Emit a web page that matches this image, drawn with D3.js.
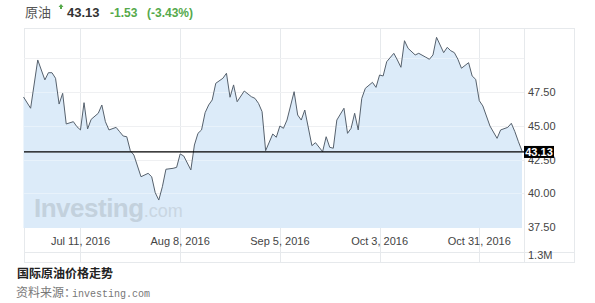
<!DOCTYPE html>
<html><head><meta charset="utf-8">
<script src="https://cdn.jsdelivr.net/npm/d3@7"></script>
<style>body{margin:0;background:#fff;}svg{display:block;}</style>
</head><body>
<svg id="c" width="595" height="303"></svg>
<script>
const dates = ["2016-06-25","2016-06-27","2016-06-29","2016-07-01","2016-07-02","2016-07-03","2016-07-04","2016-07-05","2016-07-06","2016-07-07",
"2016-07-09","2016-07-10","2016-07-11","2016-07-12","2016-07-13","2016-07-14","2016-07-16","2016-07-17","2016-07-18","2016-07-19",
"2016-07-21","2016-07-22","2016-07-23","2016-07-24","2016-07-25","2016-07-26","2016-07-28","2016-07-30","2016-07-31","2016-08-01",
"2016-08-02","2016-08-03","2016-08-04","2016-08-06","2016-08-07","2016-08-08","2016-08-09","2016-08-11","2016-08-12","2016-08-13",
"2016-08-14","2016-08-15","2016-08-16","2016-08-17","2016-08-18","2016-08-20","2016-08-21","2016-08-22","2016-08-23","2016-08-24",
"2016-08-26","2016-08-28","2016-08-29","2016-08-30","2016-08-31","2016-09-01","2016-09-03","2016-09-04","2016-09-05","2016-09-06",
"2016-09-07","2016-09-09","2016-09-10","2016-09-11","2016-09-12","2016-09-14","2016-09-15","2016-09-17","2016-09-18","2016-09-19",
"2016-09-20","2016-09-21","2016-09-23","2016-09-24","2016-09-25","2016-09-26","2016-09-27","2016-09-28","2016-09-29","2016-10-01",
"2016-10-02","2016-10-03","2016-10-04","2016-10-05","2016-10-07","2016-10-08","2016-10-09","2016-10-10","2016-10-11","2016-10-13",
"2016-10-14","2016-10-16","2016-10-17","2016-10-18","2016-10-19","2016-10-21","2016-10-22","2016-10-23","2016-10-24","2016-10-25",
"2016-10-26","2016-10-28","2016-10-29","2016-10-30","2016-10-31","2016-11-01","2016-11-03","2016-11-05","2016-11-06","2016-11-08",
"2016-11-09","2016-11-10","2016-11-11","2016-11-12"];
const prices = [47.11,46.28,49.84,48.37,48.90,48.90,48.49,46.59,47.38,45.12,
45.29,44.92,44.68,46.69,44.75,45.46,45.91,46.52,45.29,44.68,
44.87,44.55,44.23,44.18,43.15,42.83,41.23,41.48,41.23,40.05,
39.51,40.49,41.78,41.85,41.92,42.91,42.76,41.73,43.57,44.43,
44.68,45.95,46.52,46.89,48.12,48.49,48.86,47.09,48.00,46.76,
47.55,47.13,47.01,46.64,46.03,43.15,44.38,44.14,44.97,44.80,
45.41,47.50,45.78,45.41,46.15,43.52,43.74,43.08,44.18,43.40,
43.33,45.41,46.28,44.43,44.80,45.91,44.68,47.01,47.75,48.19,
47.82,48.73,48.66,49.71,50.33,49.84,49.30,51.26,50.70,50.21,
50.33,50.04,49.89,50.21,51.51,50.38,50.77,50.52,50.38,49.89,
49.23,49.64,48.66,48.41,46.84,46.45,44.97,44.06,44.68,44.87,
45.17,44.55,43.81,43.13];
const yTicks = [50, 47.5, 45, 42.5, 40, 37.5];
const yTickLabels = ["", "47.50", "45.00", "42.50", "40.00", "37.50"];
const xTickDates = ["2016-07-11","2016-08-08","2016-09-05","2016-10-03","2016-10-31"];
const xTickLabels = ["Jul 11, 2016","Aug 8, 2016","Sep 5, 2016","Oct 3, 2016","Oct 31, 2016"];
const lastPrice = 43.13;
const volumeLabel = "1.3M";
const header = {name:"原油", price:"43.13", change:"-1.53", pct:"(-3.43%)"};
const title = "国际原油价格走势";
const sourceLabel = "资料来源：";
const sourceText = "investing.com";

const parse = d3.timeParse("%Y-%m-%d");
const data = dates.map((d,i)=>({date:parse(d), v:prices[i]}));

const svg = d3.select("#c");
const L = 24, R = 524, T = 28, B = 228, BOX_R = 574, BOX_B = 262, SEP = 252;
const x = d3.scaleTime().domain([data[0].date, data[data.length-1].date]).range([23.5, 522]);
const y = d3.scaleLinear().domain([37.5, 50]).range([227.3, 57.8]);
const sans = "'Liberation Sans', Arial, sans-serif";
const grid = "#e6e9ec";

// frame
svg.append("rect").attr("x",L+0.5).attr("y",T+0.5).attr("width",BOX_R-L).attr("height",BOX_B-T)
  .attr("fill","none").attr("stroke",grid);
svg.append("line").attr("x1",R+0.5).attr("x2",R+0.5).attr("y1",T).attr("y2",BOX_B).attr("stroke",grid);
svg.append("line").attr("x1",L).attr("x2",BOX_R).attr("y1",SEP+0.5).attr("y2",SEP+0.5).attr("stroke",grid);

// horizontal grid
svg.append("g").selectAll("line").data(yTicks.slice(0,5)).join("line")
  .attr("x1",L).attr("x2",R).attr("y1",d=>Math.round(y(d))+0.5).attr("y2",d=>Math.round(y(d))+0.5)
  .attr("stroke",grid);
// vertical grid
svg.append("g").selectAll("line").data(xTickDates).join("line")
  .attr("x1",d=>Math.round(x(parse(d)))+0.5).attr("x2",d=>Math.round(x(parse(d)))+0.5)
  .attr("y1",T).attr("y2",BOX_B).attr("stroke",grid);

// area
const area = d3.area().x(d=>x(d.date)).y0(B).y1(d=>y(d.v));
svg.append("path").datum(data).attr("d",area).attr("fill","#dcebf9");

// watermark
const wm = svg.append("text").attr("x",34).attr("y",217).attr("font-family",sans);
wm.append("tspan").text("Investing").attr("font-size",26).attr("font-weight","bold").attr("fill","#c3d1dd").attr("letter-spacing",-0.5);
wm.append("tspan").text(".com").attr("font-size",18).attr("fill","#c9d6e2");

// grid over area (faint)
svg.append("g").selectAll("line").data(yTicks.slice(0,5)).join("line")
  .attr("x1",L).attr("x2",R).attr("y1",d=>Math.round(y(d))+0.5).attr("y2",d=>Math.round(y(d))+0.5)
  .attr("stroke","#ffffff").attr("stroke-opacity",0.35);

// line
const line = d3.line().x(d=>x(d.date)).y(d=>y(d.v));
svg.append("path").datum(data).attr("d",line).attr("fill","none").attr("stroke","#56616d").attr("stroke-width",1);

// last price line
svg.append("line").attr("x1",L).attr("x2",R).attr("y1",y(lastPrice)+1).attr("y2",y(lastPrice)+1)
  .attr("stroke","#000").attr("stroke-width",1.3);

// y labels
svg.append("g").selectAll("text").data(yTicks).join("text")
  .attr("x",528).attr("y",d=>y(d)+4).text((d,i)=>yTickLabels[i])
  .attr("font-family",sans).attr("font-size",11).attr("fill","#444");
// last price box
svg.append("rect").attr("x",524).attr("y",y(lastPrice)-5).attr("width",30).attr("height",12).attr("fill","#000");
svg.append("text").attr("x",539).attr("y",y(lastPrice)+5).attr("text-anchor","middle")
  .text(lastPrice.toFixed(2)).attr("font-family",sans).attr("font-size",11).attr("font-weight","bold").attr("fill","#fff");

// x labels
svg.append("g").selectAll("text").data(xTickDates).join("text")
  .attr("x",d=>x(parse(d))).attr("y",245).attr("text-anchor","middle").text((d,i)=>xTickLabels[i])
  .attr("font-family",sans).attr("font-size",11).attr("fill","#444");
svg.append("text").attr("x",528).attr("y",259).text(volumeLabel)
  .attr("font-family",sans).attr("font-size",11).attr("fill","#444");

// header
svg.append("text").attr("x",25).attr("y",17).text(header.name)
  .attr("font-family","'Noto Sans CJK SC', sans-serif").attr("font-size",13).attr("fill","#555");
svg.append("path").attr("d","M61,4 L63.5,7 L62,7 L62,9 L60,9 L60,7 L58.5,7 Z").attr("fill","#55a94b");
svg.append("text").attr("x",67).attr("y",17).text(header.price)
  .attr("font-family",sans).attr("font-size",13).attr("font-weight","bold").attr("fill","#333");
svg.append("text").attr("x",110).attr("y",17).text(header.change)
  .attr("font-family",sans).attr("font-size",12).attr("font-weight","bold").attr("fill","#55a94b");
svg.append("text").attr("x",147).attr("y",17).text(header.pct)
  .attr("font-family",sans).attr("font-size",12).attr("font-weight","bold").attr("fill","#55a94b");

// footer
svg.append("text").attr("x",17).attr("y",278).text(title)
  .attr("font-family","'Noto Sans CJK SC', sans-serif").attr("font-size",12).attr("font-weight","bold").attr("fill","#222");
const src = svg.append("text").attr("x",16).attr("y",297).attr("fill","#777");
src.append("tspan").text(sourceLabel).attr("font-family","'Noto Sans CJK SC', sans-serif").attr("font-size",12);
src.append("tspan").attr("x",72).text(sourceText).attr("font-family","'Liberation Mono', monospace").attr("font-size",10);
</script>
</body></html>
